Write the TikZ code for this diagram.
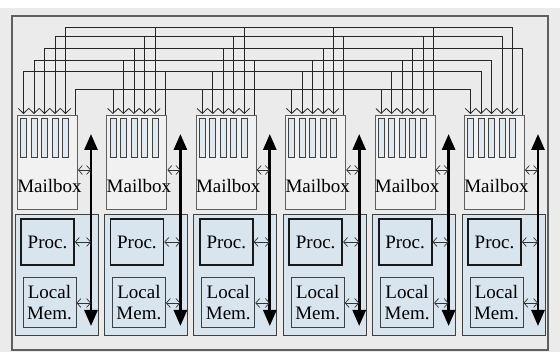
\documentclass[tikz,border=0pt]{standalone}
\usepackage{fontspec}
\setmainfont{Liberation Serif}
\usetikzlibrary{arrows.meta}

\definecolor{bggray}{RGB}{235,235,235}
\definecolor{mbgray}{RGB}{241,241,241}
\definecolor{boxblue}{RGB}{216,228,238}
\definecolor{slotblue}{RGB}{224,232,240}
\definecolor{edgegray}{RGB}{95,95,95}

\begin{document}
\begin{tikzpicture}[x=1pt, y=-1pt,
    every node/.style={font=\fontsize{19}{21}\selectfont},
    mailbox/.style={draw=edgegray, line width=0.9pt, fill=mbgray,
        rectangle, minimum width=60pt, minimum height=94pt, inner sep=0pt},
    slot/.style={draw=black!75, line width=0.8pt, fill=slotblue,
        rectangle, minimum width=6pt, minimum height=39pt, inner sep=0pt},
    pebox/.style={draw=black!75, line width=0.9pt, fill=boxblue,
        rectangle, minimum width=83pt, minimum height=121pt, inner sep=0pt},
    procbox/.style={draw=black!90, line width=1.8pt, fill=boxblue,
        rectangle, minimum width=53pt, minimum height=46pt, inner sep=0pt},
    membox/.style={draw=black!75, line width=1pt, fill=boxblue, align=center,
        rectangle, minimum width=53pt, minimum height=50pt, inner sep=0pt},
    wire/.style={line width=0.8pt, black!85,
        -{Straight Barb[length=5pt,width=10.5pt]}},
    link/.style={line width=0.7pt, black!80, <->,
        >={Straight Barb[length=4pt,width=9pt]}},
    bus/.style={line width=2.8pt, <->,
        >={Triangle[length=16pt,width=13pt]}},
    ]
    \useasboundingbox (0,0) rectangle (560,352);
    \fill[white] (0,0) rectangle (560,8);
    \fill[bggray] (0,8) rectangle (560,352);
    \draw[edgegray, line width=1.4pt] (12,16) rectangle (548,350);

    % height of the bus line each node sends on
    \foreach \i/\h in {1/89, 2/71, 3/60, 4/36, 5/27, 6/48}
        \coordinate (lvl\i) at (0,\h);

    \foreach \k in {1,...,6} {
        \pgfmathsetmacro{\mbx}{17.5+89.4*(\k-1)}
        \pgfmathsetmacro{\pex}{15+89.4*(\k-1)}

        \node[mailbox] (mb\k) at (\mbx+30, 162) {};
        \foreach \s in {0,...,4} {
            \node[slot] (sl\k-\s) at (\mbx+6+10.5*\s, 137.5) {};
            \coordinate (in\k-\s) at (\mbx+6+10.5*\s, 114);
        }
        \coordinate (out\k) at (\mbx+58, 115);
        \node (mbt\k) at (\mbx+32, 186) {Mailbox};

        \node[pebox] (pe\k) at (\pex+41.5, 274.5) {};
        \node[procbox] (pr\k) at (\pex+32.5, 242) {Proc.};
        \node[membox] (lm\k) at (\pex+34.5, 303) {Local\\Mem.};

        \coordinate (bt\k) at (\pex+76, 134);
        \coordinate (bb\k) at (\pex+76, 326);
        \draw[bus] (bt\k) -- (bb\k);

        \coordinate (ma\k) at ([yshift=-8pt]mb\k.east);
        \draw[link] (ma\k) -- (ma\k -| bt\k);
        \draw[link] (pr\k.east) -- (pr\k.east -| bt\k);
        \draw[link] (lm\k.east) -- (lm\k.east -| bt\k);
    }

    % every mailbox hears the five others
    \foreach \k/\srcs in {1/{2,3,6,4,5}, 2/{1,3,6,4,5}, 3/{1,2,6,4,5},
                          4/{1,2,3,6,5}, 5/{1,2,3,6,4}, 6/{1,2,3,4,5}}
        \foreach \i [count=\s from 0] in \srcs
            \draw[wire] (out\i) |- (in\k-\s |- lvl\i) -- (in\k-\s);
\end{tikzpicture}
\end{document}
